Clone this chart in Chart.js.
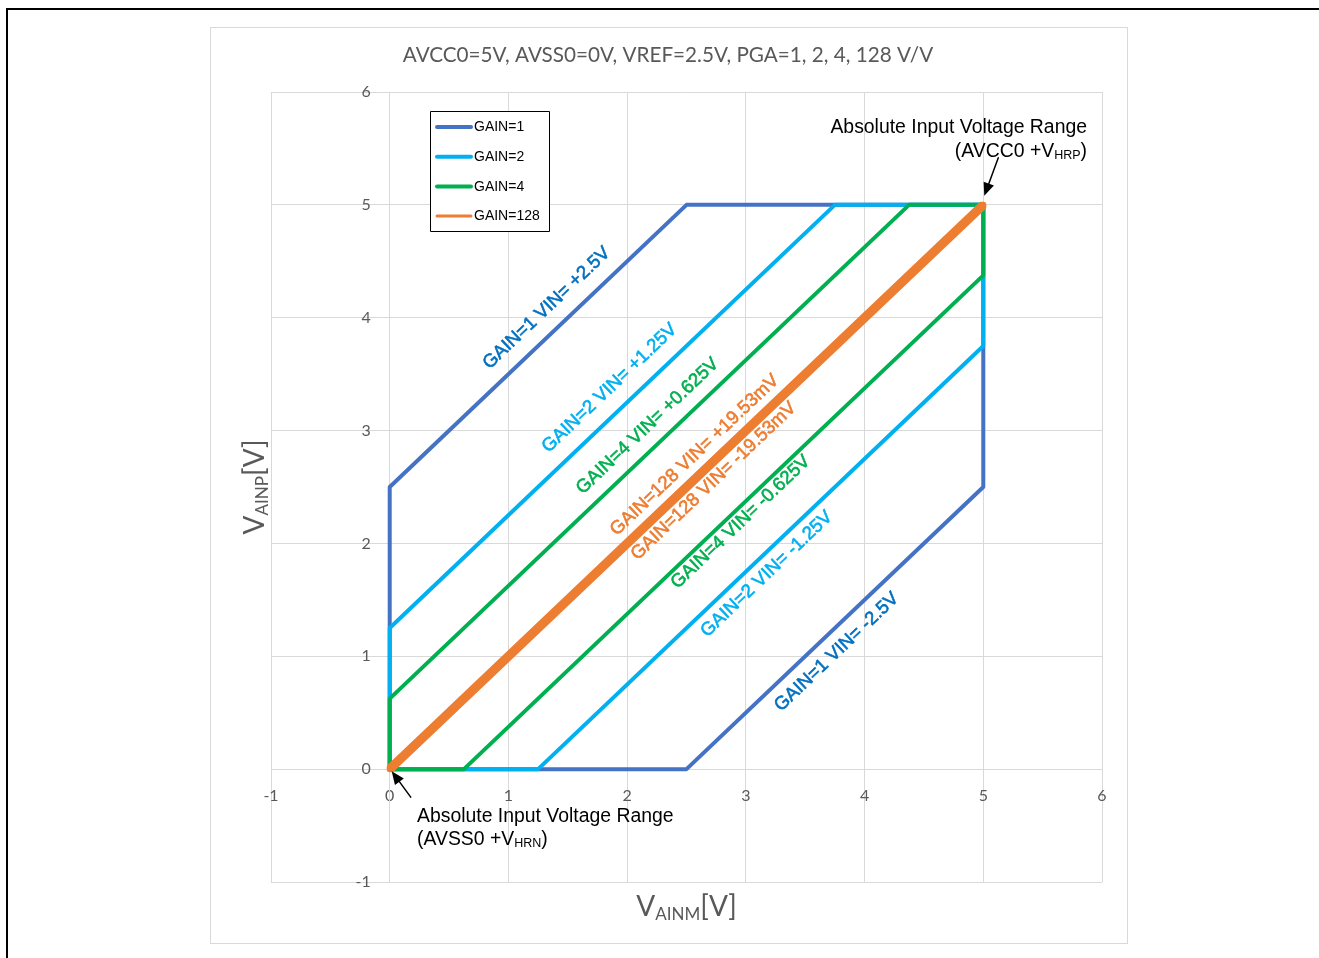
<!DOCTYPE html>
<html>
<head>
<meta charset="utf-8">
<script src="https://cdn.jsdelivr.net/npm/chart.js@4/dist/chart.umd.min.js"></script>
<style>
  html, body { margin:0; padding:0; background:#fff; }
  #wrap { position:relative; width:1319px; height:958px; overflow:hidden; }
  #frame { position:absolute; left:6px; top:8px; width:1400px; height:1100px; border-left:2px solid #000; border-top:2px solid #000; }
  canvas { position:absolute; left:0; top:0; }
</style>
</head>
<body>
<div id="wrap">
  <div id="frame"></div>
  <canvas id="c" width="1319" height="958"></canvas>
</div>
<script>
// ---- data ----
const titleText = 'AVCC0=5V, AVSS0=0V, VREF=2.5V, PGA=1, 2, 4, 128 V/V';
const seriesNames = ['GAIN=1', 'GAIN=2', 'GAIN=4', 'GAIN=128'];
const gain1X = [0, 0, 2.5, 5, 5, 2.5, 0];
const gain1Y = [0, 2.5, 5, 5, 2.5, 0, 0];
const gain2X = [0, 0, 3.75, 5, 5, 1.25, 0];
const gain2Y = [0, 1.25, 5, 5, 3.75, 0, 0];
const gain4X = [0, 0, 4.375, 5, 5, 0.625, 0];
const gain4Y = [0, 0.625, 5, 5, 4.375, 0, 0];
const gain128X = [0, 0, 4.98047, 5, 5, 0.01953, 0];
const gain128Y = [0, 0.01953, 5, 5, 4.98047, 0, 0];
const xTicks = [-1, 0, 1, 2, 3, 4, 5, 6];
const yTicks = [-1, 0, 1, 2, 3, 4, 5, 6];
const lineLabels = [
  'GAIN=1 VIN= +2.5V', 'GAIN=2 VIN= +1.25V', 'GAIN=4 VIN= +0.625V', 'GAIN=128 VIN= +19.53mV',
  'GAIN=128 VIN= -19.53mV', 'GAIN=4 VIN= -0.625V', 'GAIN=2 VIN= -1.25V', 'GAIN=1 VIN= -2.5V'
];
const lineLabelX = [1.3225, 1.853, 2.173, 2.569, 2.729, 2.957, 3.176, 3.765];
const lineLabelY = [4.0848, 3.376, 3.039, 2.782, 2.552, 2.189, 1.728, 1.037];

// ---- styles ----
const seriesColors = ['#4472C4', '#00B0F0', '#00B050', '#ED7D31'];
const seriesWidths = [4, 4, 4, 6];
const legendWidths = [4, 4, 4, 3];
const labelColors = ['#0070C0', '#00B0F0', '#00B050', '#ED7D31', '#ED7D31', '#00B050', '#00B0F0', '#0070C0'];
const greyText = '#595959';
const gridColor = '#D9D9D9';
const calFont = 'Lato, "Open Sans", sans-serif';
const arialFont = '"Liberation Sans", Arial, sans-serif';
const tickFontSize = 16;

function pts(xs, ys) { return xs.map((x, i) => ({ x: x, y: ys[i] })); }
const allX = [gain1X, gain2X, gain4X, gain128X];
const allY = [gain1Y, gain2Y, gain4Y, gain128Y];
const datasets = seriesNames.map((n, i) => ({
  label: n,
  data: pts(allX[i], allY[i]),
  showLine: true,
  borderColor: seriesColors[i],
  backgroundColor: seriesColors[i],
  borderWidth: seriesWidths[i],
  borderJoinStyle: 'round',
  borderCapStyle: 'round',
  pointRadius: 0,
  fill: false,
  order: 4 - i
}));

function drawSubText(ctx, parts, x, y, align) {
  let total = 0;
  parts.forEach(p => { ctx.font = p.font; p.w = ctx.measureText(p.t).width; total += p.w; });
  let cx = align === 'right' ? x - total : (align === 'center' ? x - total / 2 : x);
  ctx.textAlign = 'left';
  ctx.textBaseline = 'alphabetic';
  parts.forEach(p => { ctx.font = p.font; ctx.fillText(p.t, cx, y + (p.dy || 0)); cx += p.w; });
}

function arrow(ctx, x1, y1, x2, y2) {
  const ang = Math.atan2(y2 - y1, x2 - x1);
  const hl = 13, hw = 5.5;
  const bx = x2 - hl * Math.cos(ang), by = y2 - hl * Math.sin(ang);
  ctx.save();
  ctx.strokeStyle = '#000'; ctx.fillStyle = '#000'; ctx.lineWidth = 1.5;
  ctx.beginPath(); ctx.moveTo(x1, y1); ctx.lineTo(bx, by); ctx.stroke();
  ctx.beginPath();
  ctx.moveTo(x2, y2);
  ctx.lineTo(bx + hw * Math.sin(ang), by - hw * Math.cos(ang));
  ctx.lineTo(bx - hw * Math.sin(ang), by + hw * Math.cos(ang));
  ctx.closePath(); ctx.fill();
  ctx.restore();
}

const decor = {
  id: 'decor',
  beforeDraw(chart) {
    const ctx = chart.ctx;
    ctx.save();
    ctx.strokeStyle = gridColor; ctx.lineWidth = 1;
    ctx.strokeRect(210.5, 27.5, 917, 916);
    ctx.fillStyle = greyText;
    ctx.font = '20.7px ' + calFont;
    ctx.textAlign = 'center'; ctx.textBaseline = 'alphabetic';
    ctx.fillText(titleText, 668, 62);
    ctx.restore();
  },
  afterDraw(chart) {
    const ctx = chart.ctx;
    const xs = chart.scales.x, ys = chart.scales.y;
    const ax = xs.getPixelForValue(0);
    ctx.save();
    ctx.fillStyle = greyText;
    ctx.font = tickFontSize + 'px ' + calFont;
    ctx.textAlign = 'right'; ctx.textBaseline = 'middle';
    ys.ticks.forEach(t => ctx.fillText(String(t.value), ax - 19, ys.getPixelForValue(t.value)));
    ctx.restore();
  },
  afterDatasetsDraw(chart) {
    const ctx = chart.ctx;
    const xs = chart.scales.x, ys = chart.scales.y;
    const ca = chart.chartArea;
    const ang = Math.atan2(ys.getPixelForValue(1) - ys.getPixelForValue(0), xs.getPixelForValue(1) - xs.getPixelForValue(0));
    ctx.save();
    ctx.font = '18.6px ' + arialFont;
    ctx.textAlign = 'center'; ctx.textBaseline = 'middle';
    ctx.lineWidth = 0.6; ctx.lineJoin = 'round';
    lineLabels.forEach((t, i) => {
      ctx.save();
      ctx.translate(xs.getPixelForValue(lineLabelX[i]), ys.getPixelForValue(lineLabelY[i]));
      ctx.rotate(ang);
      ctx.fillStyle = labelColors[i];
      ctx.strokeStyle = labelColors[i];
      ctx.fillText(t, 0, 0);
      ctx.strokeText(t, 0, 0);
      ctx.restore();
    });
    // legend
    const lx = 430.5, ly = 111.5;
    ctx.fillStyle = '#fff';
    ctx.fillRect(lx, ly, 119, 120);
    ctx.strokeStyle = '#000'; ctx.lineWidth = 1;
    ctx.strokeRect(lx, ly, 119, 120);
    chart.data.datasets.forEach((d, i) => {
      const yy = 127 + i * 29.7;
      ctx.strokeStyle = d.borderColor; ctx.lineWidth = legendWidths[i]; ctx.lineCap = 'round';
      ctx.beginPath(); ctx.moveTo(437, yy); ctx.lineTo(471, yy); ctx.stroke();
      ctx.fillStyle = '#000'; ctx.font = '14px ' + arialFont;
      ctx.textAlign = 'left'; ctx.textBaseline = 'middle';
      ctx.fillText(d.label, 474, yy + 0.5);
    });
    // annotations
    const px5 = xs.getPixelForValue(5), py5 = ys.getPixelForValue(5);
    const px0 = xs.getPixelForValue(0), py0 = ys.getPixelForValue(0);
    ctx.fillStyle = '#000';
    const big = '19.4px ' + arialFont, small = '12.5px ' + arialFont;
    drawSubText(ctx, [{ t: 'Absolute Input Voltage Range', font: big }], 1087, 133, 'right');
    drawSubText(ctx, [{ t: '(AVCC0 +V', font: big }, { t: 'HRP', font: small, dy: 2 }, { t: ')', font: big }], 1087, 157, 'right');
    arrow(ctx, px5 + 15, py5 - 47, px5 + 1, py5 - 9);
    drawSubText(ctx, [{ t: 'Absolute Input Voltage Range', font: big }], 417, 822, 'left');
    drawSubText(ctx, [{ t: '(AVSS0 +V', font: big }, { t: 'HRN', font: small, dy: 2 }, { t: ')', font: big }], 417, 845, 'left');
    arrow(ctx, px0 + 21, py0 + 28, px0 + 2, py0 + 2);
    // axis titles
    ctx.fillStyle = greyText;
    const tb = '28px ' + calFont, ts = '17px ' + calFont;
    drawSubText(ctx, [{ t: 'V', font: tb }, { t: 'AINM', font: ts, dy: 4 }, { t: '[V]', font: tb }], (ca.left + ca.right) / 2, 916, 'center');
    ctx.save();
    ctx.translate(264, (ca.top + ca.bottom) / 2);
    ctx.rotate(-Math.PI / 2);
    drawSubText(ctx, [{ t: 'V', font: tb }, { t: 'AINP', font: ts, dy: 4 }, { t: '[V]', font: tb }], 0, 0, 'center');
    ctx.restore();
    ctx.restore();
  }
};

new Chart(document.getElementById('c').getContext('2d'), {
  type: 'scatter',
  data: { datasets: datasets },
  options: {
    responsive: false,
    animation: false,
    layout: { padding: { left: 271, right: 217, top: 92, bottom: 76 } },
    plugins: { legend: { display: false }, tooltip: { enabled: false }, title: { display: false } },
    scales: {
      x: {
        type: 'linear', min: xTicks[0], max: xTicks[xTicks.length - 1],
        position: { y: 0 },
        afterBuildTicks: s => { s.ticks = xTicks.map(v => ({ value: v })); },
        ticks: { color: greyText, padding: 17, font: { family: calFont, size: tickFontSize } },
        grid: { color: gridColor, drawTicks: false, lineWidth: 1 },
        border: { color: gridColor }
      },
      y: {
        type: 'linear', min: yTicks[0], max: yTicks[yTicks.length - 1],
        position: { x: 0 },
        afterBuildTicks: s => { s.ticks = yTicks.map(v => ({ value: v })); },
        ticks: { display: false },
        grid: { color: gridColor, drawTicks: false, lineWidth: 1 },
        border: { color: gridColor }
      }
    }
  },
  plugins: [decor]
});
</script>
</body>
</html>
